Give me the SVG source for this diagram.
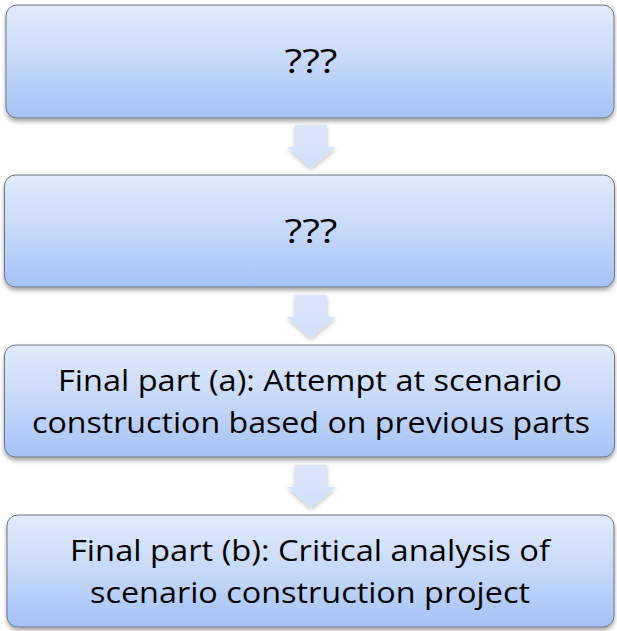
<svg xmlns="http://www.w3.org/2000/svg" width="617" height="631" viewBox="0 0 617 631">
<defs>
<linearGradient id="boxGrad" x1="0" y1="0" x2="0" y2="1">
<stop offset="0" stop-color="#e1ebfc"/>
<stop offset="0.5" stop-color="#c6d9fa"/>
<stop offset="1" stop-color="#a3c2f7"/>
</linearGradient>
<linearGradient id="arrGrad" x1="0" y1="0" x2="0" y2="1">
<stop offset="0" stop-color="#dbe6fb"/>
<stop offset="1" stop-color="#d0e0fb"/>
</linearGradient>
<filter id="shadow" x="-5%" y="-10%" width="110%" height="130%">
<feDropShadow dx="0" dy="3" stdDeviation="2" flood-color="#000" flood-opacity="0.35"/>
</filter>
<filter id="ashadow" x="-30%" y="-20%" width="160%" height="150%">
<feDropShadow dx="0" dy="2" stdDeviation="2" flood-color="#000" flood-opacity="0.25"/>
</filter>
</defs>
<style>
.box{fill:url(#boxGrad);stroke:#6f757f;stroke-width:1;filter:url(#shadow)}
.arrow{fill:url(#arrGrad);stroke:none;filter:url(#ashadow)}
.t{font-family:"Open Sans","Noto Sans","DejaVu Sans",sans-serif;font-size:29.5px;fill:#000;text-anchor:middle}
.q{font-size:33px}
</style>
<g id="connectors">
<path class="arrow" d="M295,125 H327 V147 H336 L311,168 L287,147 H295 Z"/>
<path class="arrow" d="M295,295 H327 V317 H336 L311,338 L287,317 H295 Z"/>
<path class="arrow" d="M295,465 H327 V487 H336 L311,508 L287,487 H295 Z"/>
</g>
<g id="node1">
<rect class="box" x="6" y="5" width="608" height="113" rx="11"/>
<text class="t q" x="311" y="73" textLength="53" lengthAdjust="spacingAndGlyphs">???</text>
</g>
<g id="node2">
<rect class="box" x="4.5" y="175" width="610" height="112" rx="11"/>
<text class="t q" x="311" y="243" textLength="53" lengthAdjust="spacingAndGlyphs">???</text>
</g>
<g id="node3">
<rect class="box" x="4.5" y="345" width="610" height="112" rx="11"/>
<text class="t" x="310" y="391" textLength="504" lengthAdjust="spacingAndGlyphs">Final part (a): Attempt at scenario</text>
<text class="t" x="311" y="433" textLength="558" lengthAdjust="spacingAndGlyphs">construction based on previous parts</text>
</g>
<g id="node4">
<rect class="box" x="7" y="515" width="607" height="112" rx="11"/>
<text class="t" x="310" y="561" textLength="480" lengthAdjust="spacingAndGlyphs">Final part (b): Critical analysis of</text>
<text class="t" x="310" y="603" textLength="440" lengthAdjust="spacingAndGlyphs">scenario construction project</text>
</g>
</svg>
